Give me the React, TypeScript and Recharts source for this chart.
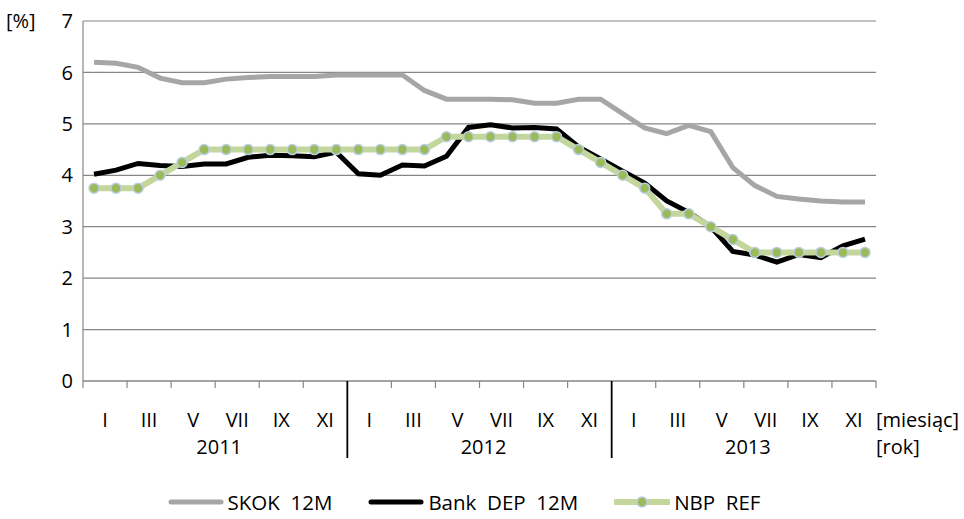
import React from "react";
import { LineChart, Line, XAxis, YAxis, CartesianGrid, Legend } from "recharts";

const years = ["2011", "2012", "2013"];
const monthLabels = ["I", "III", "V", "VII", "IX", "XI"];
const yTicks = [0, 1, 2, 3, 4, 5, 6, 7];
const seriesOrder = ["skok", "bank", "nbp"];

const skok = [
  6.2, 6.18, 6.1, 5.89, 5.8, 5.8, 5.87, 5.9, 5.92, 5.92, 5.92, 5.95,
  5.95, 5.95, 5.95, 5.65, 5.48, 5.48, 5.48, 5.47, 5.4, 5.4, 5.48, 5.48,
  5.2, 4.92, 4.81, 4.97, 4.85, 4.15, 3.8, 3.59, 3.54, 3.5, 3.48, 3.48,
];
const bank = [
  4.02, 4.1, 4.23, 4.19, 4.17, 4.22, 4.22, 4.35, 4.39, 4.38, 4.36, 4.45,
  4.03, 4.0, 4.2, 4.18, 4.37, 4.93, 4.98, 4.92, 4.93, 4.9, 4.55, 4.32,
  4.08, 3.85, 3.5, 3.28, 3.0, 2.52, 2.45, 2.31, 2.46, 2.4, 2.63, 2.76,
];
const nbp = [
  3.75, 3.75, 3.75, 4.0, 4.25, 4.5, 4.5, 4.5, 4.5, 4.5, 4.5, 4.5,
  4.5, 4.5, 4.5, 4.5, 4.75, 4.75, 4.75, 4.75, 4.75, 4.75, 4.5, 4.25,
  4.0, 3.75, 3.25, 3.25, 3.0, 2.75, 2.5, 2.5, 2.5, 2.5, 2.5, 2.5,
];

const data = skok.map((_, i) => ({ x: i + 0.5, skok: skok[i], bank: bank[i], nbp: nbp[i] }));
const xTicks = Array.from({ length: 37 }, (_, i) => i);

const FONT = "'Open Sans', sans-serif";
const FS = 20;
const GRID = "#868686";

const XTick = (props: any) => {
  const { x, y, payload } = props;
  const v: number = payload.value;
  const els: React.ReactNode[] = [];
  if (v % 2 === 0) {
    const isYear = v % 12 === 0 && v > 0 && v < 36;
    els.push(
      <line key="t" x1={x} x2={x} y1={y} y2={isYear ? y + 77 : y + 7}
        stroke={isYear ? "#000" : GRID} strokeWidth={isYear ? 1.8 : 1.2} />
    );
    if (v % 12 === 6) {
      els.push(
        <text key="y" x={x + 4} y={y + 73} textAnchor="middle" fontFamily={FONT} fontSize={FS} fill="#000">
          {years[Math.floor(v / 12)]}
        </text>
      );
    }
  } else {
    const m = Math.floor((v % 12) / 2);
    els.push(
      <text key="m" x={x} y={y + 46} textAnchor="middle" fontFamily={FONT} fontSize={FS} fill="#000">
        {monthLabels[m]}
      </text>
    );
    if (v === 35) {
      els.push(
        <text key="u1" x={x + 22} y={y + 46} textAnchor="start" fontFamily={FONT} fontSize={FS} fill="#000">[miesiąc]</text>
      );
      els.push(
        <text key="u2" x={x + 22} y={y + 73} textAnchor="start" fontFamily={FONT} fontSize={FS} fill="#000">[rok]</text>
      );
    }
  }
  return <g>{els}</g>;
};

const NbpDot = (props: any) => {
  const { cx, cy } = props;
  if (cx == null || cy == null) return null;
  return <circle cx={cx} cy={cy} r={5} fill="#9BBB59" stroke="#B9CDE5" strokeWidth={1.5} />;
};

const LegendContent = (props: any) => {
  const payload = [...(props.payload || [])].sort(
    (a: any, b: any) => seriesOrder.indexOf(a.dataKey) - seriesOrder.indexOf(b.dataKey)
  );
  return (
    <div style={{ display: "flex", justifyContent: "center", alignItems: "center", fontFamily: FONT, fontSize: 20.5, lineHeight: "20px", height: 20 }}>
      {payload.map((e: any) => (
        <div key={e.value} style={{ display: "flex", alignItems: "center", marginRight: 36, height: 20 }}>
          <svg width={56} height={14} style={{ marginRight: 4 }}>
            {e.dataKey === "nbp" ? (
              <>
                <line x1={2} x2={54} y1={7} y2={7} stroke="#C3D69B" strokeWidth={6} strokeLinecap="round" />
                <circle cx={28} cy={7} r={5} fill="#9BBB59" stroke="#B9CDE5" strokeWidth={1.5} />
              </>
            ) : (
              <line x1={3} x2={53} y1={7} y2={7} stroke={e.color} strokeWidth={5} strokeLinecap="round" />
            )}
          </svg>
          <span style={{ whiteSpace: "pre", color: "#000", lineHeight: "20px" }}>{e.value}</span>
        </div>
      ))}
    </div>
  );
};

export default function App() {
  return (
    <div style={{ position: "fixed", left: 0, top: 0, width: 964, height: 519, background: "#fff" }}>
      <LineChart width={964} height={519} data={data} margin={{ top: 21, right: 88, left: 0, bottom: 58 }}>
        <CartesianGrid vertical={false} stroke={GRID} strokeWidth={1.2} />
        <XAxis dataKey="x" type="number" domain={[0, 36]} ticks={xTicks} interval={0}
          tick={<XTick />} tickLine={false} tickSize={0} tickMargin={0}
          axisLine={{ stroke: GRID, strokeWidth: 1.2 }} height={80} />
        <YAxis domain={[0, 7]} ticks={yTicks} interval={0} width={83} tickLine={false} tickSize={0} tickMargin={10}
          axisLine={{ stroke: GRID, strokeWidth: 1.2 }}
          tick={{ fontFamily: FONT, fontSize: FS, fill: "#000" }}
          label={{
            content: (p: any) => (
              <text x={6} y={p.viewBox.y + 7} fontFamily={FONT} fontSize={FS} fill="#000">[%]</text>
            ),
          }} />
        <Legend verticalAlign="middle" align="center" layout="horizontal" content={<LegendContent />}
          wrapperStyle={{ top: 492, left: 0, width: 964, height: 20, lineHeight: "20px" }} />
        <Line type="linear" dataKey="skok" name="SKOK  12M" stroke="#A6A6A6" strokeWidth={5} dot={false} isAnimationActive={false} />
        <Line type="linear" dataKey="bank" name="Bank  DEP  12M" stroke="#000000" strokeWidth={5} dot={false} isAnimationActive={false} />
        <Line type="linear" dataKey="nbp" name="NBP  REF" stroke="#C3D69B" strokeWidth={6} dot={<NbpDot />} isAnimationActive={false} />
      </LineChart>
    </div>
  );
}
